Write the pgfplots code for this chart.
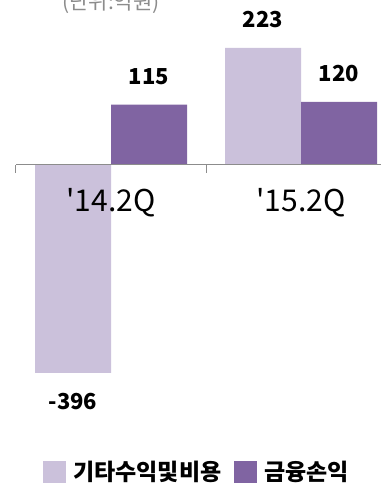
\documentclass[border=0pt]{standalone}
\usepackage{pgfplots}
\pgfplotsset{compat=1.18}
\usepackage{fontspec}
\setmainfont{Noto Sans CJK KR}
\definecolor{lightp}{HTML}{CBC1DB}
\definecolor{darkp}{HTML}{8064A2}
\definecolor{axgray}{HTML}{8C8C8C}
\begin{document}
\begin{tikzpicture}[x=1pt,y=1pt]
\useasboundingbox (0,0) rectangle (381,487);
\clip (0,0) rectangle (381,487);
\node[anchor=base, text=axgray, font=\fontsize{21}{21}\selectfont, inner sep=0pt] at (111,477) {(단위:억원)};
\begin{axis}[
  at={(111pt,322pt)}, anchor=origin,
  scale only axis, width=365pt, height=346.5pt,
  xmin=-0.5, xmax=1.421, ymin=-420, ymax=240,
  axis on top,
  axis x line=middle, axis y line=none,
  axis line style={-, axgray, line width=1pt},
  ybar=0pt, bar width=76pt,
  xtick={0,1}, xticklabels={\textquotesingle14.2Q,\textquotesingle15.2Q},
  major tick length=0pt,
  minor xtick={-0.5,0.5,1.5},
  minor tick length=8pt,
  tick align=outside,
  minor tick style={axgray, line width=1pt},
  xticklabel style={anchor=base, yshift=-47pt, font=\fontsize{30}{30}\selectfont, inner sep=0pt},
  /pgf/number format/assume math mode=true,
  nodes near coords,
  every node near coord/.append style={font=\bfseries\fontsize{22}{22}\selectfont, inner xsep=0pt, inner ysep=20pt, text=black},
  legend columns=2,
  legend style={draw=none, fill=none, at={(axis description cs:0.074,-0.2496)}, anchor=west, inner sep=0pt, font=\bfseries\fontsize{23}{23}\selectfont, /tikz/every even column/.append style={column sep=11pt}, /tikz/every odd column/.append style={column sep=5pt}},
  legend image code/.code={\fill[#1] (0pt,-11pt) rectangle (23pt,11pt);},
  legend cell align=left,
]
\addplot[fill=lightp, draw=none] coordinates {(0,-396) (1,223)};
\addplot[fill=darkp, draw=none] coordinates {(0,115) (1,120)};
\legend{기타수익및비용,금융손익}
\end{axis}
\end{tikzpicture}
\end{document}
